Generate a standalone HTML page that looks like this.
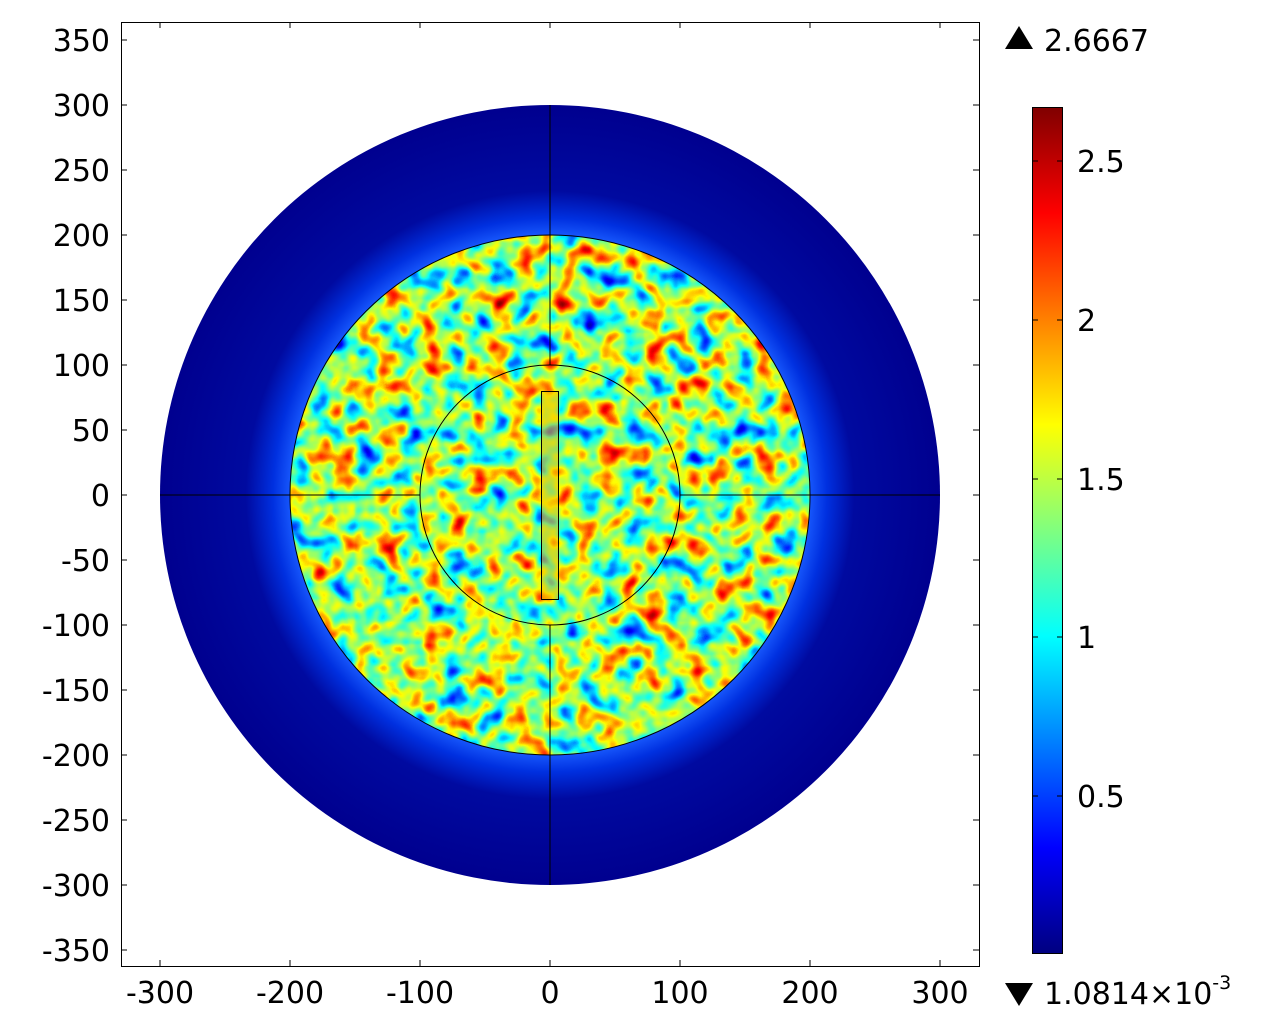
<!DOCTYPE html>
<html><head><style>
html,body{margin:0;padding:0;background:#fff;}
svg{display:block;font-family:"DejaVu Sans","Liberation Sans",sans-serif;}
</style></head><body>
<svg width="1280" height="1024" viewBox="0 0 1280 1024">
<defs>
<filter id="noise" x="0" y="0" width="100%" height="100%" color-interpolation-filters="sRGB">
<feTurbulence type="fractalNoise" baseFrequency="0.045" numOctaves="2" seed="7" result="t"/>
<feColorMatrix type="matrix" values="1 0 0 0 0  1 0 0 0 0  1 0 0 0 0  0 0 0 0 1"/>
<feComponentTransfer><feFuncR type="linear" slope="1.2" intercept="-0.07"/><feFuncG type="linear" slope="1.2" intercept="-0.07"/><feFuncB type="linear" slope="1.2" intercept="-0.07"/></feComponentTransfer>
<feComponentTransfer>
<feFuncR type="table" tableValues="0 0 0 0 0.5 1 1 1 0.5"/>
<feFuncG type="table" tableValues="0 0 0.5 1 1 1 0.5 0 0"/>
<feFuncB type="table" tableValues="0.5 1 1 1 0.5 0 0 0 0"/>
</feComponentTransfer>
</filter>
<clipPath id="c200"><circle cx="550" cy="495" r="260"/></clipPath>
<radialGradient id="halo" cx="550" cy="495" r="390" gradientUnits="userSpaceOnUse">
<stop offset="0.66" stop-color="#1a5cff"/>
<stop offset="0.71" stop-color="#0030e0"/>
<stop offset="0.78" stop-color="#000aa0"/>
<stop offset="1" stop-color="#00008f"/>
</radialGradient>
<linearGradient id="jet" x1="0" y1="1" x2="0" y2="0">
<stop offset="0" stop-color="#000080"/>
<stop offset="0.125" stop-color="#0000ff"/>
<stop offset="0.375" stop-color="#00ffff"/>
<stop offset="0.625" stop-color="#ffff00"/>
<stop offset="0.875" stop-color="#ff0000"/>
<stop offset="1" stop-color="#800000"/>
</linearGradient>
</defs>
<rect x="121.5" y="22.5" width="858" height="944" fill="#fff" stroke="#000" stroke-width="1"/>
<circle cx="550" cy="495" r="390" fill="url(#halo)"/>
<g clip-path="url(#c200)">
<rect x="290" y="235" width="520" height="520" filter="url(#noise)"/>
</g>
<g fill="none" stroke="#000" stroke-width="1">
<circle cx="550" cy="495" r="260"/>
<circle cx="550" cy="495" r="130"/>
<line x1="550" y1="105" x2="550" y2="365"/>
<line x1="550" y1="625" x2="550" y2="885"/>
<line x1="160" y1="495" x2="420" y2="495"/>
<line x1="680" y1="495" x2="940" y2="495"/>
<rect x="541.5" y="391.5" width="17" height="208" fill="#f0c000" fill-opacity="0.55"/>
</g>
<g stroke="#000" stroke-width="1">
<line x1="160" y1="966" x2="160" y2="960"/><line x1="290" y1="966" x2="290" y2="960"/><line x1="420" y1="966" x2="420" y2="960"/><line x1="550" y1="966" x2="550" y2="960"/><line x1="680" y1="966" x2="680" y2="960"/><line x1="810" y1="966" x2="810" y2="960"/><line x1="940" y1="966" x2="940" y2="960"/>
<line x1="160" y1="22" x2="160" y2="28"/><line x1="290" y1="22" x2="290" y2="28"/><line x1="420" y1="22" x2="420" y2="28"/><line x1="550" y1="22" x2="550" y2="28"/><line x1="680" y1="22" x2="680" y2="28"/><line x1="810" y1="22" x2="810" y2="28"/><line x1="940" y1="22" x2="940" y2="28"/>
</g>
<g stroke="#000">
<path d="M121 40h6M121 105h6M121 170h6M121 235h6M121 300h6M121 365h6M121 430h6M121 495h6M121 560h6M121 625h6M121 690h6M121 755h6M121 820h6M121 885h6M121 950h6"/>
<path d="M979 40h-6M979 105h-6M979 170h-6M979 235h-6M979 300h-6M979 365h-6M979 430h-6M979 495h-6M979 560h-6M979 625h-6M979 690h-6M979 755h-6M979 820h-6M979 885h-6M979 950h-6"/>
</g>
<g font-size="30" text-anchor="end" fill="#000">
<text x="110" y="51">350</text><text x="110" y="116">300</text><text x="110" y="181">250</text><text x="110" y="246">200</text><text x="110" y="311">150</text><text x="110" y="376">100</text><text x="110" y="441">50</text><text x="110" y="506">0</text><text x="110" y="571">-50</text><text x="110" y="636">-100</text><text x="110" y="701">-150</text><text x="110" y="766">-200</text><text x="110" y="831">-250</text><text x="110" y="896">-300</text><text x="110" y="961">-350</text>
</g>
<g font-size="30" text-anchor="middle" fill="#000">
<text x="160" y="1003">-300</text><text x="290" y="1003">-200</text><text x="420" y="1003">-100</text><text x="550" y="1003">0</text><text x="680" y="1003">100</text><text x="810" y="1003">200</text><text x="940" y="1003">300</text>
</g>
<rect x="1032.5" y="107.5" width="30" height="846" fill="url(#jet)" stroke="#000"/>
<g stroke="#000"><path d="M1033 161h5M1062 161h-5M1033 320h5M1062 320h-5M1033 479h5M1062 479h-5M1033 637h5M1062 637h-5M1033 796h5M1062 796h-5"/></g>
<g font-size="30" fill="#000">
<text x="1077" y="172">2.5</text><text x="1077" y="331">2</text><text x="1077" y="490">1.5</text><text x="1077" y="648">1</text><text x="1077" y="807">0.5</text>
<text x="1044" y="51">2.6667</text>
<text x="1044" y="1004">1.0814×10<tspan font-size="19" dy="-15">-3</tspan></text>
</g>
<polygon points="1005,49 1019,26 1033,49" fill="#000"/>
<polygon points="1005,983 1033,983 1019,1006" fill="#000"/>
</svg>
</body></html>
